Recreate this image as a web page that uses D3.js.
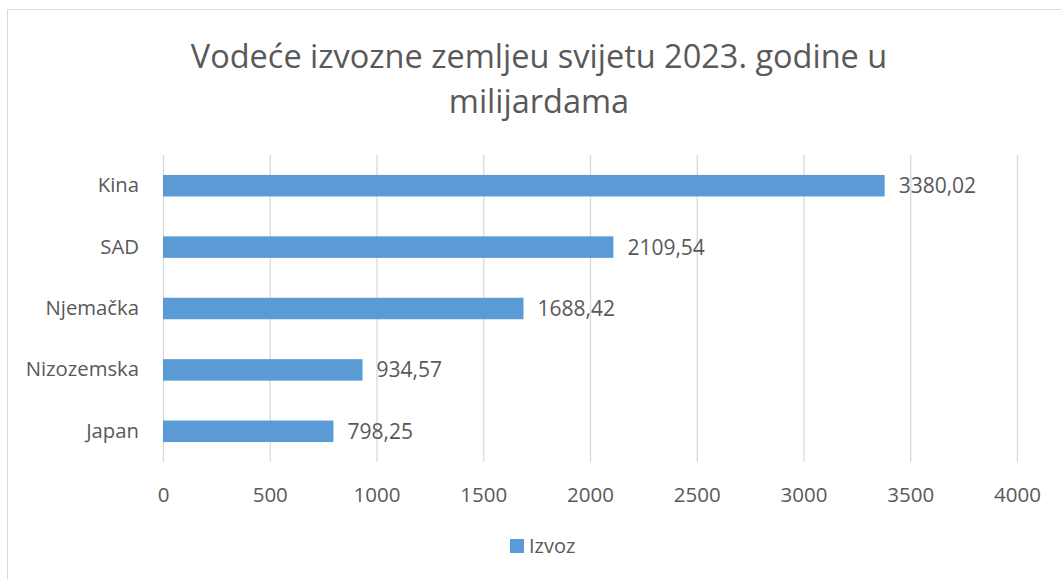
<!DOCTYPE html>
<html>
<head>
<meta charset="utf-8">
<script src="https://cdn.jsdelivr.net/npm/d3@7"></script>
<style>
  html, body { margin: 0; padding: 0; background: #fff; overflow: hidden; }
  svg { display: block; }
  svg text { font-family: "Open Sans", "Noto Sans", sans-serif; fill: #595959; }
</style>
</head>
<body>
<div id="chart"></div>
<script>
// data
const countries = [`Kina`, `SAD`, `Njemačka`, `Nizozemska`, `Japan`];
const exports2023 = [3380.02, 2109.54, 1688.42, 934.57, 798.25];
const valueLabels = [`3380,02`, `2109,54`, `1688,42`, `934,57`, `798,25`];
const xTicks = [0, 500, 1000, 1500, 2000, 2500, 3000, 3500, 4000];
const titleLines = [`Vodeće izvozne zemljeu svijetu 2023. godine u`, `milijardama`];
const seriesName = `Izvoz`;

// constants
const width = 1061;
const height = 579;
const margin = {top: 155, right: 44, bottom: 117, left: 163};
const innerWidth = width - margin.left - margin.right;
const innerHeight = height - margin.top - margin.bottom;
const barColor = `#5B9BD5`;
const gridColor = `#D9D9D9`;
const labelFont = `20.5px`;

const svg = d3.select(`#chart`)
    .append(`svg`)
        .attr(`width`, width)
        .attr(`height`, height);

// chart border (right and bottom edges lie outside the picture)
svg.append(`path`)
    .attr(`d`, `M7.5,${height} V9.5 H${width}`)
    .attr(`fill`, `none`)
    .attr(`stroke`, gridColor);

svg.append(`text`)
    .attr(`x`, 539)
    .attr(`y`, 68)
    .attr(`text-anchor`, `middle`)
    .style(`font-size`, `32.5px`)
    .selectAll(`tspan`)
    .data(titleLines)
    .join(`tspan`)
        .attr(`x`, 539)
        .attr(`dy`, (d, i) => i === 0 ? 0 : 45)
        .text(d => d);

const g = svg.append(`g`)
    .attr(`transform`, `translate(${margin.left},${margin.top})`);

const xScale = d3.scaleLinear()
    .domain([0, 4000])
    .range([0, innerWidth]);

const yScale = d3.scaleBand()
    .domain(countries)
    .range([0, innerHeight])
    .paddingInner(0.65)
    .paddingOuter(0.325);

// gridlines + tick labels
const xAxis = g.append(`g`)
    .call(d3.axisBottom(xScale)
        .tickValues(xTicks)
        .tickSize(innerHeight)
        .tickPadding(0)
        .tickFormat(d3.format(`d`)));

xAxis.attr(`font-size`, null).attr(`font-family`, null);
xAxis.select(`.domain`).remove();
xAxis.selectAll(`.tick line`)
    .attr(`stroke`, gridColor)
    .attr(`stroke-width`, 1.3);
xAxis.selectAll(`.tick text`)
    .attr(`y`, innerHeight + 40)
    .attr(`dy`, 0)
    .style(`font-size`, labelFont)
    .attr(`fill`, `#595959`);

// category axis
const yAxis = g.append(`g`)
    .call(d3.axisLeft(yScale).tickSize(0).tickPadding(24));
yAxis.attr(`font-size`, null).attr(`font-family`, null);
yAxis.select(`.domain`).remove();
yAxis.selectAll(`.tick text`)
    .style(`font-size`, `20.3px`)
    .attr(`fill`, `#595959`);

// bars
g.append(`g`)
    .selectAll(`rect`)
    .data(countries)
    .join(`rect`)
        .attr(`x`, 0)
        .attr(`y`, d => yScale(d))
        .attr(`width`, (d, i) => xScale(exports2023[i]))
        .attr(`height`, yScale.bandwidth())
        .attr(`fill`, barColor);

// value labels
g.append(`g`)
    .selectAll(`text`)
    .data(countries)
    .join(`text`)
        .attr(`x`, (d, i) => xScale(exports2023[i]) + 14)
        .attr(`y`, d => yScale(d) + yScale.bandwidth() / 2)
        .attr(`dy`, `0.36em`)
        .style(`font-size`, `21px`)
        .text((d, i) => valueLabels[i]);

// legend
svg.append(`rect`)
    .attr(`x`, 510)
    .attr(`y`, 539)
    .attr(`width`, 14)
    .attr(`height`, 14)
    .attr(`fill`, barColor);

svg.append(`text`)
    .attr(`x`, 529)
    .attr(`y`, 553)
    .style(`font-size`, `20px`)
    .text(seriesName);
</script>
</body>
</html>
